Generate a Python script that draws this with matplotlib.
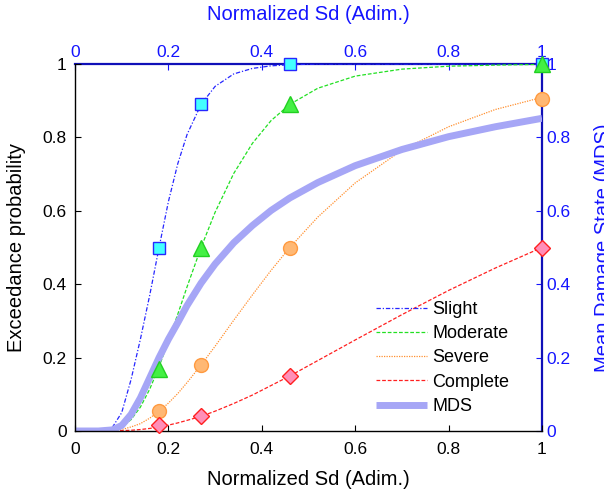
import numpy as np
import matplotlib.pyplot as plt

plt.rcParams['font.family'] = ['Liberation Sans', 'DejaVu Sans']

# ===== DATA =====
sd = [0.0, 0.05, 0.08, 0.10, 0.12, 0.14, 0.16, 0.18, 0.20, 0.22, 0.24, 0.27,
      0.30, 0.34, 0.38, 0.42, 0.46, 0.52, 0.60, 0.70, 0.80, 0.90, 1.0]

slight = [0.0, 0.0, 0.01, 0.05, 0.14, 0.25, 0.37, 0.50, 0.625, 0.728, 0.808, 0.89,
          0.939, 0.973, 0.988, 0.995, 0.998, 1.0, 1.0, 1.0, 1.0, 1.0, 1.0]
moderate = [0.0, 0.0, 0.003, 0.011, 0.031, 0.065, 0.114, 0.175, 0.245, 0.318, 0.393, 0.50,
            0.596, 0.702, 0.784, 0.846, 0.89, 0.934, 0.967, 0.986, 0.994, 0.997, 0.999]
severe = [0.0, 0.0, 0.001, 0.004, 0.011, 0.020, 0.035, 0.054, 0.076, 0.102, 0.132, 0.18,
          0.231, 0.302, 0.371, 0.438, 0.50, 0.583, 0.676, 0.765, 0.829, 0.876, 0.909]
complete = [0.0, 0.0, 0.0, 0.001, 0.002, 0.004, 0.007, 0.011, 0.016, 0.022, 0.029, 0.040,
            0.054, 0.075, 0.098, 0.124, 0.15, 0.192, 0.248, 0.317, 0.383, 0.444, 0.50]
mds = [0.0, 0.0, 0.003, 0.015, 0.045, 0.09, 0.145, 0.20, 0.25, 0.295, 0.342, 0.403,
       0.455, 0.513, 0.560, 0.601, 0.635, 0.677, 0.723, 0.767, 0.802, 0.829, 0.852]

pts_x = [0.18, 0.27, 0.46, 1.0]
slight_pts = [0.50, 0.89, 1.0, 1.0]
moderate_pts = [0.17, 0.50, 0.89, 1.0]
severe_pts = [0.055, 0.18, 0.50, 0.905]
complete_pts = [0.015, 0.04, 0.15, 0.50]

ticks = [0, 0.2, 0.4, 0.6, 0.8, 1]
tick_labels = ['0', '0.2', '0.4', '0.6', '0.8', '1']

blue_txt = '#1414ff'
blue_axis = '#1010b8'

fig = plt.figure(figsize=(6.04, 4.91), dpi=100)
ax = fig.add_axes([75/604, 1 - 431/491, 467/604, 367/491])

# fragility curves
ax.plot(sd, slight, color='#2626ff', lw=0.9, dashes=(3.5, 1.5, 1, 1.5), label='Slight')
ax.plot(sd, moderate, color='#22e022', lw=0.9, dashes=(3, 1.5), label='Moderate')
ax.plot(sd, severe, color='#ff9030', lw=0.9, dashes=(1, 1), label='Severe')
ax.plot(sd, complete, color='#ff2020', lw=0.9, dashes=(3, 1.5), label='Complete')
ax.plot(sd, mds, color='#a6a6f6', lw=5.0, solid_capstyle='butt', label='MDS')

# markers
ax.plot(pts_x, slight_pts, 's', ms=8.5, mfc='#44ffff', mec='#2626ff', mew=1.0,
        clip_on=False, zorder=5)
ax.plot(pts_x, moderate_pts, '^', ms=11, mfc='#44f044', mec='#22d022', mew=1.0,
        clip_on=False, zorder=5)
ax.plot(pts_x, severe_pts, 'o', ms=10, mfc='#ffb874', mec='#ff9a40', mew=1.0,
        clip_on=False, zorder=5)
ax.plot(pts_x, complete_pts, 'D', ms=8, mfc='#ff8fb8', mec='#ff2020', mew=1.0,
        clip_on=False, zorder=5)

ax.set_xlim(0, 1)
ax.set_ylim(0, 1)
ax.set_xticks(ticks)
ax.set_xticklabels(tick_labels)
ax.set_yticks(ticks)
ax.set_yticklabels(tick_labels)
ax.tick_params(direction='in', length=4, labelsize=12.5, colors='black')
ax.tick_params(axis='x', pad=8)
ax.tick_params(axis='y', pad=6)
ax.set_xlabel('Normalized Sd (Adim.)', fontsize=14.5, labelpad=9)
ax.set_ylabel('Exceedance probability', fontsize=14.5, labelpad=12)
for s in ['left', 'bottom']:
    ax.spines[s].set_linewidth(1.0)
for s in ['top', 'right']:
    ax.spines[s].set_visible(False)

# secondary axes (blue)
top = ax.secondary_xaxis('top')
top.set_xticks(ticks)
top.set_xticklabels(tick_labels)
top.tick_params(direction='in', length=4, labelsize=12.5, pad=3, colors=blue_txt)
top.spines['top'].set_color(blue_axis)
top.spines['top'].set_linewidth(1.6)
top.set_xlabel('Normalized Sd (Adim.)', fontsize=14.5, color=blue_txt, labelpad=18)

right = ax.secondary_yaxis('right')
right.set_yticks(ticks)
right.set_yticklabels(tick_labels)
right.tick_params(direction='in', length=4, labelsize=12.5, pad=3, colors=blue_txt)
right.spines['right'].set_color(blue_axis)
right.spines['right'].set_linewidth(1.6)
right.set_ylabel('Mean Damage State (MDS)', fontsize=14.5, color=blue_txt, labelpad=17)

ax.legend(loc='upper left', bbox_to_anchor=(367/604, 1 - 292/491),
          bbox_transform=fig.transFigure, frameon=False, fontsize=13,
          handlelength=2.8, handletextpad=0.3, labelspacing=0.4, borderpad=0)

fig.savefig('out.png', dpi=100)
